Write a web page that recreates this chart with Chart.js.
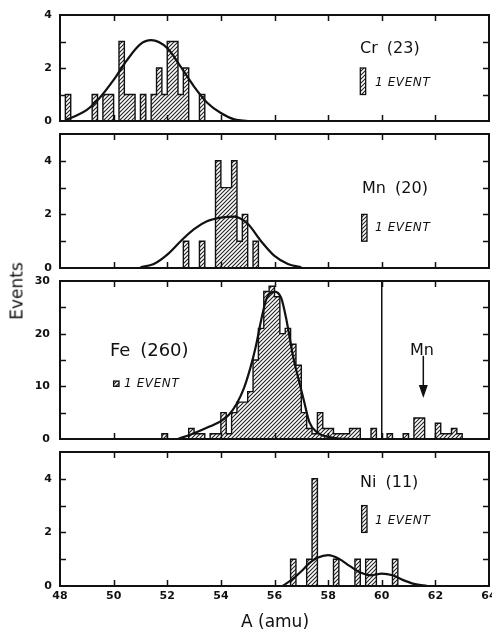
<!DOCTYPE html>
<html lang="en">
<head>
<meta charset="UTF-8">
<title>Mass histograms – Cr, Mn, Fe, Ni</title>
<script src="https://cdn.jsdelivr.net/npm/chart.js"></script>
<style>
  body { margin: 0; background: #fff; font-family: "DejaVu Sans", sans-serif; color: #111; }
  .page { position: relative; width: 492px; height: 630px; overflow: hidden; }
  canvas { position: absolute; left: 0; }
  .lbl { position: absolute; white-space: nowrap; line-height: 1; }
  .name { font-size: 16px; word-spacing: 4px; }
  .key { font-size: 12px; font-style: italic; letter-spacing: 0.6px; }
  #c1 { top: 8px; }
  #c2 { top: 127px; }
  #c3 { top: 274px; }
  #c4 { top: 445px; }
</style>
</head>
<body>
<div class="page">
  <canvas id="c1" width="492" height="119"></canvas>
  <canvas id="c2" width="492" height="147"></canvas>
  <canvas id="c3" width="492" height="171"></canvas>
  <canvas id="c4" width="492" height="185"></canvas>

  <div class="lbl name" style="left:360px; top:40px;">Cr (23)</div>
  <div class="lbl key" style="left:375px; top:76px;">1 EVENT</div>

  <div class="lbl name" style="left:362px; top:180px;">Mn (20)</div>
  <div class="lbl key" style="left:375px; top:221px;">1 EVENT</div>

  <div class="lbl name" style="left:110px; top:341px; font-size:18px;">Fe (260)</div>
  <div class="lbl key" style="left:124px; top:377px;">1 EVENT</div>
  <div class="lbl name" style="left:410px; top:342px;">Mn</div>

  <div class="lbl name" style="left:360px; top:474px;">Ni (11)</div>
  <div class="lbl key" style="left:375px; top:514px;">1 EVENT</div>

  <div class="lbl" style="left:17px; top:291px; font-size:17px; transform:translate(-50%,-50%) rotate(-90deg);">Events</div>
  <div class="lbl" style="left:275px; top:621px; font-size:17px; transform:translate(-50%,-50%);">A (amu)</div>
</div>

<script>
const binWidth = 0.2;          // amu per histogram bin
const xMin = 48, xMax = 64, xStep = 2;

// Cr
const crEdges  = [48.2, 49.2, 49.6, 49.8, 50.2, 50.4, 50.6, 51.0, 51.4, 51.6, 51.8, 52.0, 52.2, 52.4, 52.6, 53.2];
const crCounts = [1, 1, 1, 1, 3, 1, 1, 1, 1, 2, 1, 3, 3, 1, 2, 1];
const crFitX = [48.2, 48.6, 49.0, 49.5, 50.0, 50.5, 51.0, 51.4, 52.0, 52.5, 53.0, 53.5, 54.0, 54.5, 55.0];
const crFitY = [0.03, 0.2, 0.42, 0.9, 1.55, 2.3, 2.9, 3.05, 2.75, 2.05, 1.3, 0.68, 0.3, 0.06, 0];

// Mn
const mnEdges  = [52.6, 53.2, 53.8, 54.0, 54.2, 54.4, 54.6, 54.8, 55.2];
const mnCounts = [1, 1, 4, 3, 3, 4, 1, 2, 1];
const mnFitX = [51.0, 51.5, 52.0, 52.5, 53.0, 53.5, 54.0, 54.5, 55.0, 55.5, 56.0, 56.5, 57.0];
const mnFitY = [0.03, 0.15, 0.5, 1.0, 1.45, 1.75, 1.88, 1.92, 1.65, 1.0, 0.45, 0.15, 0.03];

// Fe (plus the Mn events above A = 60)
const feEdges  = [51.8, 52.8, 53.0, 53.2, 53.6, 53.8, 54.0, 54.2, 54.4, 54.6, 54.8, 55.0, 55.2, 55.4, 55.6, 55.8,
                  56.0, 56.2, 56.4, 56.6, 56.8, 57.0, 57.2, 57.4, 57.6, 57.8, 58.0, 58.2, 58.4, 58.6, 58.8, 59.0, 59.6];
const feCounts = [1, 2, 1, 1, 1, 1, 5, 1, 5, 7, 7, 9, 15, 21, 28, 29,
                  27, 20, 21, 18, 14, 5, 2, 1, 5, 2, 2, 1, 1, 1, 2, 2, 2];
const feMnEdges  = [60.2, 60.8, 61.2, 61.4, 62.0, 62.2, 62.4, 62.6, 62.8];
const feMnCounts = [1, 1, 4, 4, 3, 1, 1, 2, 1];
const feFitX = [52.4, 53.0, 53.6, 54.0, 54.3, 54.6, 54.85, 55.1, 55.3, 55.5, 55.7, 56.0, 56.25, 56.45, 56.7, 56.9, 57.1, 57.3, 57.6, 58.0, 58.4, 58.8];
const feFitY = [0, 1.1, 2.4, 3.4, 4.6, 6.8, 9.5, 13.5, 17.5, 22.5, 26.6, 28.0, 26.8, 22.5, 15.5, 11.3, 7.2, 3.2, 1.2, 0.4, 0.1, 0];

// Ni
const niEdges  = [56.6, 57.2, 57.4, 58.2, 59.0, 59.4, 59.6, 60.4];
const niCounts = [1, 1, 4, 1, 1, 1, 1, 1];
const niFitX = [56.3, 56.7, 57.0, 57.3, 57.6, 58.0, 58.4, 58.8, 59.2, 59.6, 60.0, 60.4, 60.8, 61.2, 61.7];
const niFitY = [0, 0.28, 0.55, 0.85, 1.05, 1.15, 1.02, 0.75, 0.5, 0.4, 0.46, 0.4, 0.22, 0.08, 0];

const ink = '#111';
const tickFont = { family: 'DejaVu Sans', size: 11, weight: 'bold' };

function makeHatch(size) {
  const c = document.createElement('canvas');
  c.width = c.height = size;
  const g = c.getContext('2d');
  g.fillStyle = '#fff';
  g.fillRect(0, 0, size, size);
  g.strokeStyle = '#222';
  g.lineWidth = 1.1;
  g.beginPath();
  g.moveTo(0, size); g.lineTo(size, 0);
  g.moveTo(-1, 1); g.lineTo(1, -1);
  g.moveTo(size - 1, size + 1); g.lineTo(size + 1, size - 1);
  g.stroke();
  return g.createPattern(c, 'repeat');
}
const hatch = makeHatch(4);

// histogram outline as a stepped line: one point per bin edge
function stepPoints(edges, counts) {
  const pts = [{ x: edges[0], y: 0 }];
  edges.forEach((e, i) => {
    pts.push({ x: e, y: counts[i] });
    const end = e + binWidth;
    const next = edges[i + 1];
    if (next === undefined || Math.abs(next - end) > 1e-6) pts.push({ x: end, y: 0 });
  });
  return pts;
}

const zip = (xs, ys) => xs.map((x, i) => ({ x, y: ys[i] }));

// frame, inward ticks and the small annotations
const framePlugin = {
  id: 'frame',
  afterDatasetsDraw(chart, args, opts) {
    const { ctx, chartArea: a, scales: { x, y } } = chart;
    ctx.save();
    ctx.strokeStyle = ink;
    ctx.fillStyle = ink;

    ctx.lineWidth = 1.5;
    x.ticks.forEach(t => {
      if (t.value <= x.min || t.value >= x.max) return;
      const px = Math.round(x.getPixelForValue(t.value)) + 0.5;
      ctx.beginPath();
      ctx.moveTo(px, a.top); ctx.lineTo(px, a.top + 6);
      ctx.moveTo(px, a.bottom); ctx.lineTo(px, a.bottom - 6);
      ctx.stroke();
    });
    y.ticks.forEach(t => {
      if (t.value <= y.min || t.value >= y.max) return;
      const py = Math.round(y.getPixelForValue(t.value)) + 0.5;
      ctx.beginPath();
      ctx.moveTo(a.left, py); ctx.lineTo(a.left + 6, py);
      ctx.moveTo(a.right, py); ctx.lineTo(a.right - 6, py);
      ctx.stroke();
    });

    if (opts.divider !== undefined) {
      const px = x.getPixelForValue(opts.divider);
      ctx.lineWidth = 1.5;
      ctx.beginPath();
      ctx.moveTo(px, a.top); ctx.lineTo(px, a.bottom);
      ctx.stroke();
    }

    if (opts.arrow) {
      const px = x.getPixelForValue(opts.arrow.x);
      const y0 = y.getPixelForValue(opts.arrow.from);
      const y1 = y.getPixelForValue(opts.arrow.to);
      ctx.lineWidth = 1.5;
      ctx.beginPath();
      ctx.moveTo(px, y0); ctx.lineTo(px, y1 - 10);
      ctx.stroke();
      ctx.beginPath();
      ctx.moveTo(px - 4.5, y1 - 13); ctx.lineTo(px + 4.5, y1 - 13); ctx.lineTo(px, y1);
      ctx.closePath();
      ctx.fill();
    }

    if (opts.key) {
      const x0 = x.getPixelForValue(opts.key[0]);
      const x1 = x.getPixelForValue(opts.key[0] + binWidth);
      const y0 = y.getPixelForValue(opts.key[1]);
      const y1 = y.getPixelForValue(opts.key[1] + 1);
      ctx.fillStyle = hatch;
      ctx.fillRect(x0, y1, x1 - x0, y0 - y1);
      ctx.lineWidth = 1.3;
      ctx.strokeRect(x0, y1, x1 - x0, y0 - y1);
    }

    ctx.lineWidth = 2;
    ctx.strokeRect(a.left, a.top, a.right - a.left, a.bottom - a.top);
    ctx.restore();
  }
};

function panel(id, cfg) {
  const hists = cfg.hists.map(h => ({
    data: stepPoints(h[0], h[1]),
    stepped: true,
    borderColor: ink,
    borderWidth: 1.4,
    backgroundColor: hatch,
    fill: 'origin',
    pointRadius: 0,
    order: 1
  }));
  return new Chart(document.getElementById(id), {
    type: 'line',
    data: {
      datasets: [{
        data: zip(cfg.fitX, cfg.fitY),
        borderColor: ink,
        borderWidth: 2.2,
        pointRadius: 0,
        cubicInterpolationMode: 'monotone',
        fill: false,
        order: 0
      }, ...hists]
    },
    options: {
      responsive: false,
      animation: false,
      events: [],
      layout: { padding: { top: 7, right: 3, bottom: cfg.padBottom, left: 0 } },
      plugins: {
        legend: { display: false },
        tooltip: { enabled: false },
        frame: { key: cfg.key, divider: cfg.divider, arrow: cfg.arrow }
      },
      scales: {
        x: {
          type: 'linear', min: xMin, max: xMax,
          grid: { display: false, drawTicks: false },
          border: { display: false },
          ticks: { stepSize: xStep, display: cfg.showX, font: tickFont, color: ink, padding: 4, maxRotation: 0 },
          afterFit: s => { s.height = cfg.xHeight; s.paddingLeft = 0; s.paddingRight = 0; }
        },
        y: {
          min: 0, max: cfg.yMax,
          grid: { display: false, drawTicks: false },
          border: { display: false },
          ticks: {
            stepSize: cfg.yStep,
            font: tickFont, color: ink, padding: cfg.yPad,
            callback: v => (v % cfg.yLabelStep === 0 ? v : '')
          },
          afterFit: s => { s.width = 60; s.paddingTop = 0; s.paddingBottom = 0; }
        }
      }
    },
    plugins: [framePlugin]
  });
}

panel('c1', { hists: [[crEdges, crCounts]], fitX: crFitX, fitY: crFitY, yMax: 4, yStep: 1, yLabelStep: 2, yPad: 8,
              key: [59.2, 1], showX: false, xHeight: 0, padBottom: 6 });
panel('c2', { hists: [[mnEdges, mnCounts]], fitX: mnFitX, fitY: mnFitY, yMax: 5, yStep: 1, yLabelStep: 2, yPad: 8,
              key: [59.25, 1], showX: false, xHeight: 0, padBottom: 6 });
panel('c3', { hists: [[feEdges, feCounts], [feMnEdges, feMnCounts]], fitX: feFitX, fitY: feFitY, yMax: 30, yStep: 5, yLabelStep: 10, yPad: 10,
              key: [50.0, 10], divider: 60, arrow: { x: 61.55, from: 15.8, to: 7.8 }, showX: false, xHeight: 0, padBottom: 6 });
panel('c4', { hists: [[niEdges, niCounts]], fitX: niFitX, fitY: niFitY, yMax: 5, yStep: 1, yLabelStep: 2, yPad: 8,
              key: [59.25, 2], showX: true, xHeight: 44, padBottom: 0 });
</script>
</body>
</html>
